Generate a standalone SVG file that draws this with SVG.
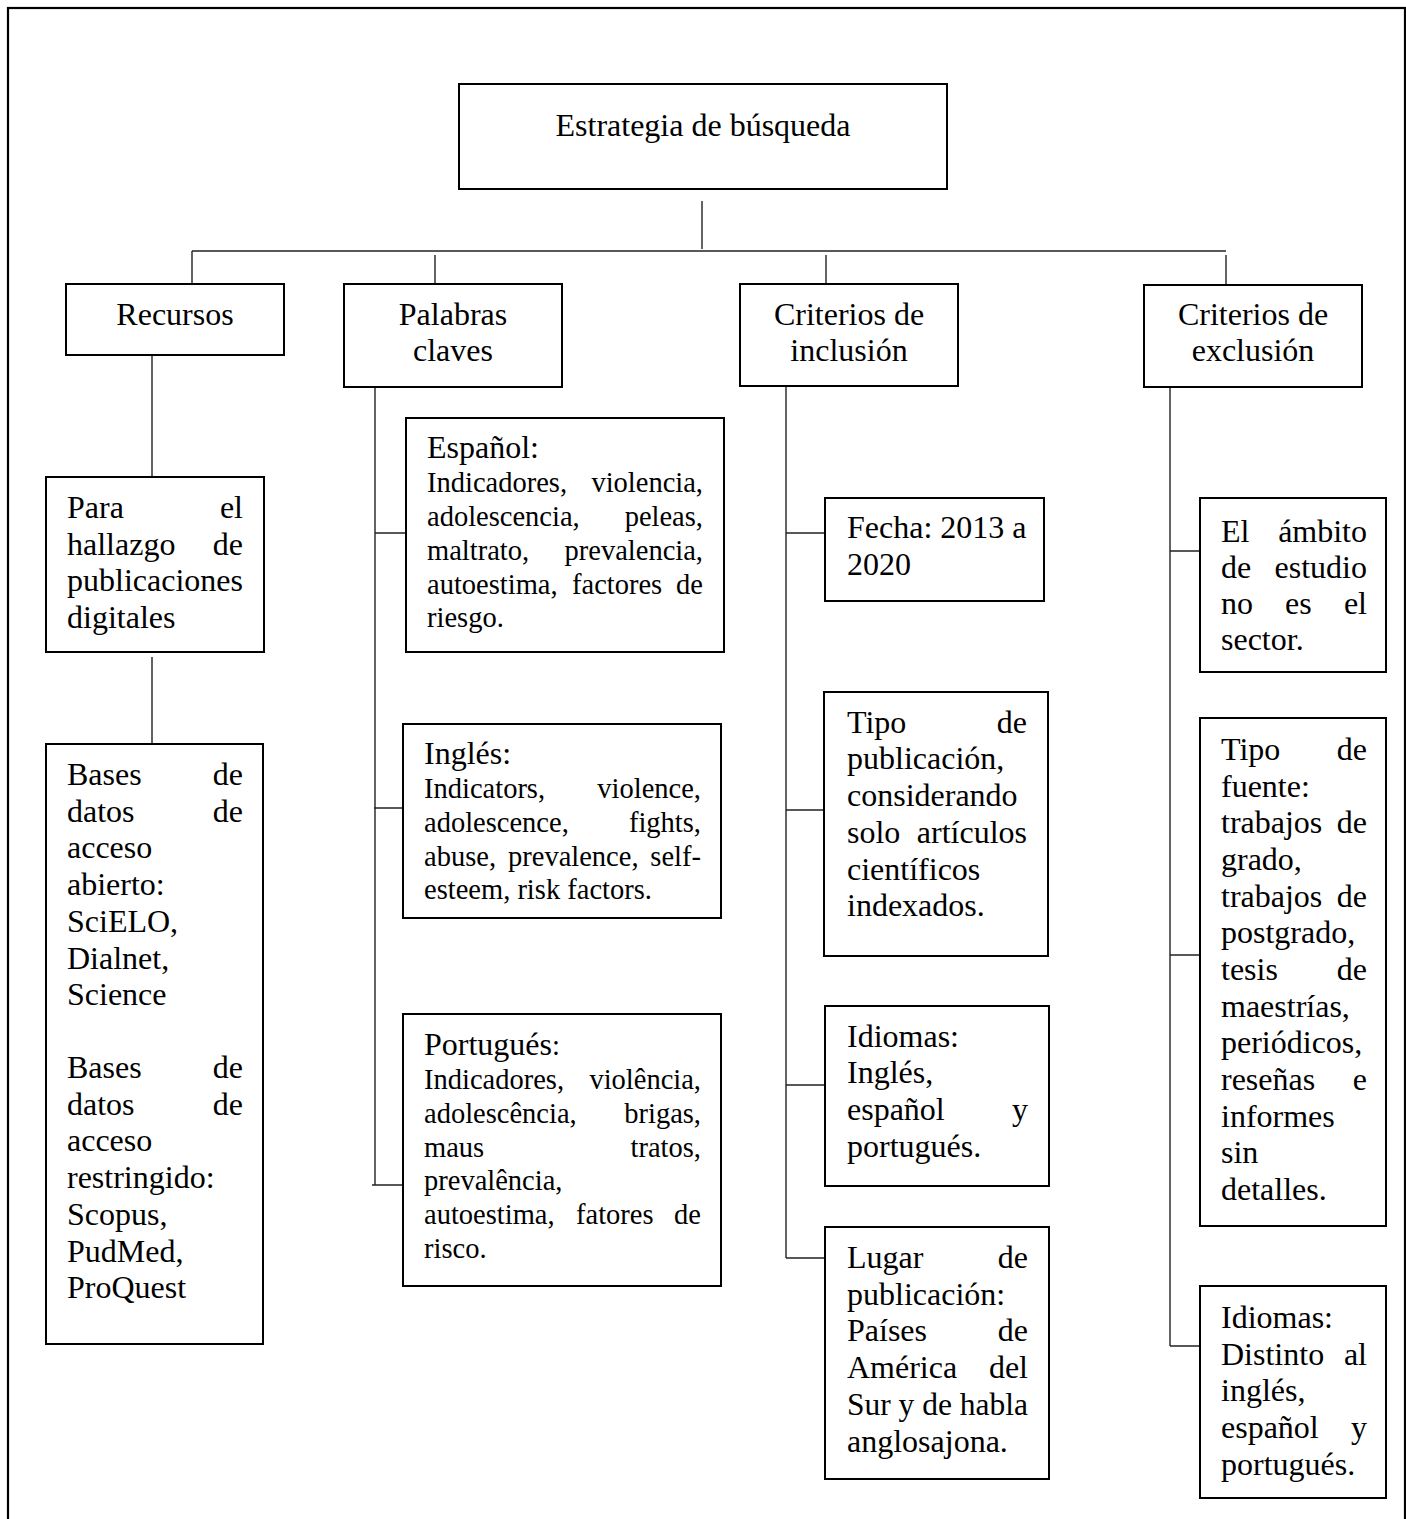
<svg xmlns="http://www.w3.org/2000/svg" width="1406" height="1519" viewBox="0 0 1406 1519">
<style>
.box{fill:#fff;stroke:#000;stroke-width:2}
.frame{fill:none;stroke:#000;stroke-width:2.2}
.con{fill:none;stroke:#222;stroke-width:1.4}
text{font-family:"Liberation Serif","Times New Roman",serif;fill:#000}
.b{font-size:32px}
.s{font-size:28.5px}
.c{text-anchor:middle}
.e{text-anchor:end}
</style>
<rect class="frame" x="8" y="8" width="1397" height="1540"/>
<g id="connectors">
<path class="con" d="M702,201V249M192,251H1226M192,251V284M435,255V284M826,255V284M1226,255V284"/>
<path class="con" d="M152,355V477M152,657V744"/>
<path class="con" d="M375,387V1185M375,533H406M374,808H403M372,1185H403"/>
<path class="con" d="M786,387V1258M786,533H825M786,810H824M786,1085H825M786,1258H825"/>
<path class="con" d="M1170,387V1346M1170,551H1200M1170,955H1200M1170,1346H1200"/>
</g>
<g id="root">
<rect class="box" x="459" y="84" width="488" height="105"/>
<text class="b c" x="703" y="136">Estrategia de búsqueda</text>
</g>
<g id="recursos">
<rect class="box" x="66" y="284" width="218" height="71"/>
<text class="b c" x="175" y="325">Recursos</text>
</g>
<g id="palabras">
<rect class="box" x="344" y="284" width="218" height="103"/>
<text class="b c" x="453" y="325">Palabras</text>
<text class="b c" x="453" y="361">claves</text>
</g>
<g id="inclusion">
<rect class="box" x="740" y="284" width="218" height="102"/>
<text class="b c" x="849" y="325">Criterios de</text>
<text class="b c" x="849" y="361">inclusión</text>
</g>
<g id="exclusion">
<rect class="box" x="1144" y="285" width="218" height="102"/>
<text class="b c" x="1253" y="325">Criterios de</text>
<text class="b c" x="1253" y="361">exclusión</text>
</g>
<g id="para">
<rect class="box" x="46" y="477" width="218" height="175"/>
<text class="b" x="67" y="518">Para</text><text class="b e" x="243" y="518">el</text>
<text class="b" x="67" y="555">hallazgo</text><text class="b e" x="243" y="555">de</text>
<text class="b" x="67" y="591">publicaciones</text>
<text class="b" x="67" y="628">digitales</text>
</g>
<g id="bases">
<rect class="box" x="46" y="744" width="217" height="600"/>
<text class="b" x="67" y="785">Bases</text><text class="b e" x="243" y="785">de</text>
<text class="b" x="67" y="822">datos</text><text class="b e" x="243" y="822">de</text>
<text class="b" x="67" y="858">acceso</text>
<text class="b" x="67" y="895">abierto:</text>
<text class="b" x="67" y="932">SciELO,</text>
<text class="b" x="67" y="969">Dialnet,</text>
<text class="b" x="67" y="1005">Science</text>
<text class="b" x="67" y="1078">Bases</text><text class="b e" x="243" y="1078">de</text>
<text class="b" x="67" y="1115">datos</text><text class="b e" x="243" y="1115">de</text>
<text class="b" x="67" y="1151">acceso</text>
<text class="b" x="67" y="1188">restringido:</text>
<text class="b" x="67" y="1225">Scopus,</text>
<text class="b" x="67" y="1262">PudMed,</text>
<text class="b" x="67" y="1298">ProQuest</text>
</g>
<g id="espanol">
<rect class="box" x="406" y="418" width="318" height="234"/>
<text class="b" x="427" y="458">Español:</text>
<text class="s" x="427" y="492">Indicadores,</text><text class="s e" x="703" y="492">violencia,</text>
<text class="s" x="427" y="526">adolescencia,</text><text class="s e" x="703" y="526">peleas,</text>
<text class="s" x="427" y="560">maltrato,</text><text class="s e" x="703" y="560">prevalencia,</text>
<text class="s" x="427" y="594">autoestima,</text><text class="s" x="572" y="594">factores</text><text class="s e" x="703" y="594">de</text>
<text class="s" x="427" y="627">riesgo.</text>
</g>
<g id="ingles">
<rect class="box" x="403" y="724" width="318" height="194"/>
<text class="b" x="424" y="764">Inglés:</text>
<text class="s" x="424" y="798">Indicators,</text><text class="s e" x="701" y="798">violence,</text>
<text class="s" x="424" y="832">adolescence,</text><text class="s e" x="701" y="832">fights,</text>
<text class="s" x="424" y="866">abuse,</text><text class="s" x="508" y="866">prevalence,</text><text class="s e" x="701" y="866">self-</text>
<text class="s" x="424" y="899">esteem, risk factors.</text>
</g>
<g id="portugues">
<rect class="box" x="403" y="1014" width="318" height="272"/>
<text class="b" x="424" y="1055">Portugués<tspan class="s">:</tspan></text>
<text class="s" x="424" y="1089">Indicadores,</text><text class="s e" x="701" y="1089">violência,</text>
<text class="s" x="424" y="1123">adolescência,</text><text class="s e" x="701" y="1123">brigas,</text>
<text class="s" x="424" y="1157">maus</text><text class="s e" x="701" y="1157">tratos,</text>
<text class="s" x="424" y="1190">prevalência,</text>
<text class="s" x="424" y="1224">autoestima,</text><text class="s" x="576" y="1224">fatores</text><text class="s e" x="701" y="1224">de</text>
<text class="s" x="424" y="1258">risco.</text>
</g>
<g id="fecha">
<rect class="box" x="825" y="498" width="219" height="103"/>
<text class="b" x="847" y="538">Fecha: 2013 a</text>
<text class="b" x="847" y="575">2020</text>
</g>
<g id="tipo-pub">
<rect class="box" x="824" y="692" width="224" height="264"/>
<text class="b" x="847" y="733">Tipo</text><text class="b e" x="1027" y="733">de</text>
<text class="b" x="847" y="769">publicación,</text>
<text class="b" x="847" y="806">considerando</text>
<text class="b" x="847" y="843">solo</text><text class="b e" x="1027" y="843">artículos</text>
<text class="b" x="847" y="880">científicos</text>
<text class="b" x="847" y="916">indexados.</text>
</g>
<g id="idiomas-inc">
<rect class="box" x="825" y="1006" width="224" height="180"/>
<text class="b" x="847" y="1047">Idiomas:</text>
<text class="b" x="847" y="1083">Inglés,</text>
<text class="b" x="847" y="1120">español</text><text class="b e" x="1028" y="1120">y</text>
<text class="b" x="847" y="1157">portugués.</text>
</g>
<g id="lugar">
<rect class="box" x="825" y="1227" width="224" height="252"/>
<text class="b" x="847" y="1268">Lugar</text><text class="b e" x="1028" y="1268">de</text>
<text class="b" x="847" y="1305">publicación:</text>
<text class="b" x="847" y="1341">Países</text><text class="b e" x="1028" y="1341">de</text>
<text class="b" x="847" y="1378">América</text><text class="b e" x="1028" y="1378">del</text>
<text class="b" x="847" y="1415" textLength="181" lengthAdjust="spacingAndGlyphs">Sur y de habla</text>
<text class="b" x="847" y="1452">anglosajona.</text>
</g>
<g id="ambito">
<rect class="box" x="1200" y="498" width="186" height="174"/>
<text class="b" x="1221" y="542">El</text><text class="b e" x="1367" y="542">ámbito</text>
<text class="b" x="1221" y="578">de</text><text class="b e" x="1367" y="578">estudio</text>
<text class="b" x="1221" y="614">no</text><text class="b" x="1285" y="614">es</text><text class="b e" x="1367" y="614">el</text>
<text class="b" x="1221" y="650">sector.</text>
</g>
<g id="tipo-fuente">
<rect class="box" x="1200" y="718" width="186" height="508"/>
<text class="b" x="1221" y="760">Tipo</text><text class="b e" x="1367" y="760">de</text>
<text class="b" x="1221" y="797">fuente:</text>
<text class="b" x="1221" y="833">trabajos</text><text class="b e" x="1367" y="833">de</text>
<text class="b" x="1221" y="870">grado,</text>
<text class="b" x="1221" y="907">trabajos</text><text class="b e" x="1367" y="907">de</text>
<text class="b" x="1221" y="943">postgrado,</text>
<text class="b" x="1221" y="980">tesis</text><text class="b e" x="1367" y="980">de</text>
<text class="b" x="1221" y="1017">maestrías,</text>
<text class="b" x="1221" y="1053">periódicos,</text>
<text class="b" x="1221" y="1090">reseñas</text><text class="b e" x="1367" y="1090">e</text>
<text class="b" x="1221" y="1127">informes</text>
<text class="b" x="1221" y="1163">sin</text>
<text class="b" x="1221" y="1200">detalles.</text>
</g>
<g id="idiomas-exc">
<rect class="box" x="1200" y="1286" width="186" height="212"/>
<text class="b" x="1221" y="1328">Idiomas:</text>
<text class="b" x="1221" y="1365">Distinto</text><text class="b e" x="1367" y="1365">al</text>
<text class="b" x="1221" y="1401">inglés,</text>
<text class="b" x="1221" y="1438">español</text><text class="b e" x="1367" y="1438">y</text>
<text class="b" x="1221" y="1475">portugués.</text>
</g>
</svg>
